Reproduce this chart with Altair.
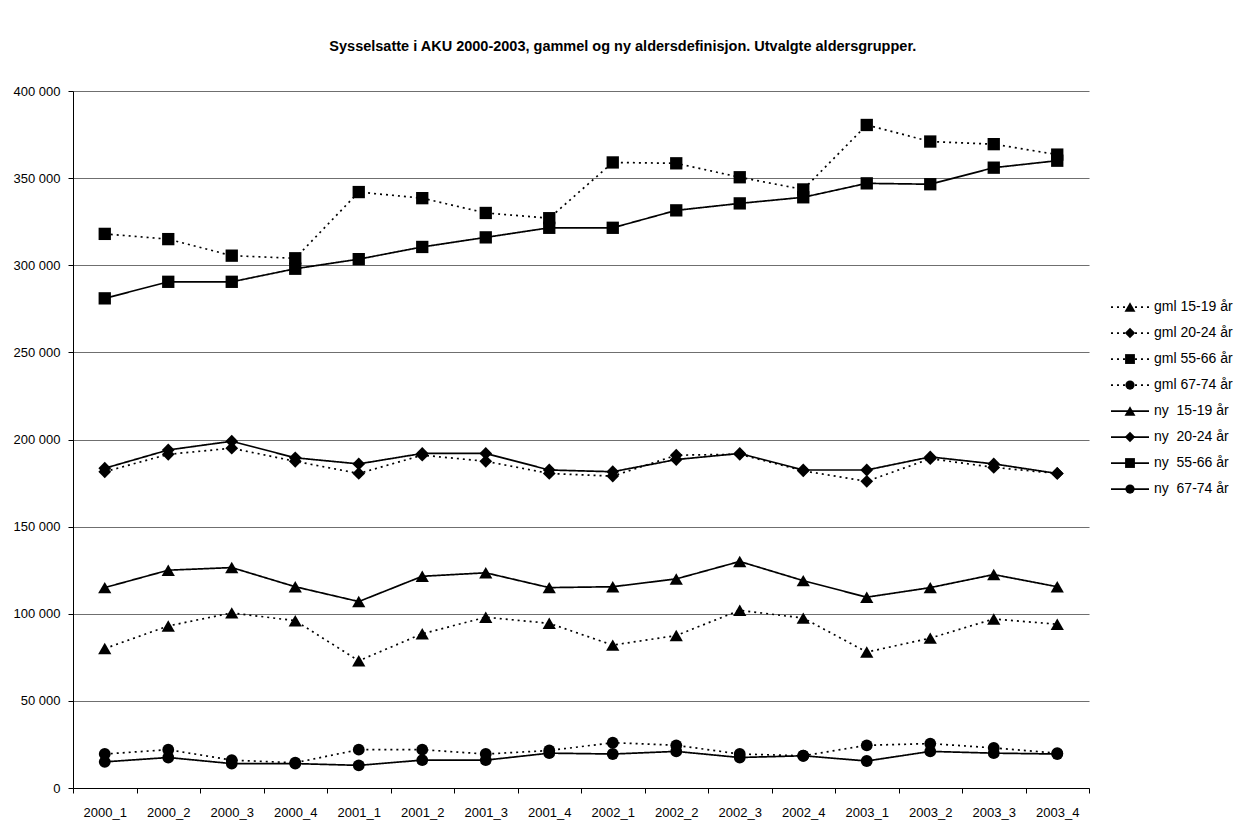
import altair as alt
import pandas as pd

periods = ["2000_1", "2000_2", "2000_3", "2000_4", "2001_1", "2001_2", "2001_3", "2001_4",
           "2002_1", "2002_2", "2002_3", "2002_4", "2003_1", "2003_2", "2003_3", "2003_4"]

gml_15_19 = [80000, 93000, 100500, 96000, 73000, 88500, 98000, 94500, 82000, 87500, 102000, 97500, 78000, 86000, 97000, 94000]
gml_20_24 = [181500, 191500, 195000, 187500, 180500, 191000, 187500, 180500, 179000, 191000, 191500, 182000, 176000, 189000, 184000, 180500]
gml_55_66 = [318000, 315000, 305500, 304000, 342000, 338500, 330000, 327000, 359000, 358500, 350500, 343500, 380500, 371000, 369500, 363500]
gml_67_74 = [19500, 22000, 16000, 14500, 22000, 22000, 19500, 21500, 26000, 24500, 19500, 18500, 24500, 25500, 23000, 20000]
ny_15_19 = [115000, 125000, 126500, 115500, 107000, 121500, 123500, 115000, 115500, 120000, 130000, 119000, 109500, 115000, 122500, 115500]
ny_20_24 = [183500, 194000, 199000, 189500, 186000, 192000, 192000, 182500, 181500, 188500, 192000, 182500, 182500, 190000, 186000, 180500]
ny_55_66 = [281000, 290500, 290500, 298000, 303500, 310500, 316000, 321500, 321500, 331500, 335500, 339000, 347000, 346500, 356000, 360000]
ny_67_74 = [15000, 17500, 14000, 14000, 13000, 16000, 16000, 20000, 19500, 21000, 17500, 18500, 15500, 21000, 20000, 19500]

series_labels = ["gml 15-19 år", "gml 20-24 år", "gml 55-66 år", "gml 67-74 år",
                 "ny\u00a0 15-19 år", "ny\u00a0 20-24 år", "ny\u00a0 55-66 år", "ny\u00a0 67-74 år"]
series_kind = ["gml", "gml", "gml", "gml", "ny", "ny", "ny", "ny"]
series_age = ["15-19", "20-24", "55-66", "67-74", "15-19", "20-24", "55-66", "67-74"]
series_values = [gml_15_19, gml_20_24, gml_55_66, gml_67_74, ny_15_19, ny_20_24, ny_55_66, ny_67_74]

ages = ["15-19", "20-24", "55-66", "67-74"]
shapes = ["triangle-up", "diamond", "square", "circle"]
sizes = [175, 140, 400, 105]

rows = []
for lab, kind, age, vals in zip(series_labels, series_kind, series_age, series_values):
    for p, v in zip(periods, vals):
        rows.append({"period": p, "value": v, "series": lab, "kind": kind, "age": age})
df = pd.DataFrame(rows)

leg = pd.DataFrame({"series": series_labels, "kind": series_kind, "age": series_age,
                    "row": list(range(len(series_labels)))})

FONT = "Liberation Sans"

dash_scale = alt.Scale(domain=["gml", "ny"], range=[[2, 4], [1, 0]])
shape_scale = alt.Scale(domain=ages, range=shapes)
size_scale = alt.Scale(domain=ages, range=sizes)

x_enc = alt.X("period:N", sort=periods, title=None,
              scale=alt.Scale(type="band", paddingInner=0, paddingOuter=0),
              axis=alt.Axis(labelAngle=0, tickBand="extent", domainColor="black", tickColor="black",
                            tickSize=5, labelPadding=13, labelFontSize=13, labelFont=FONT,
                            labelColor="black", grid=False))
y_enc = alt.Y("value:Q", title=None,
              scale=alt.Scale(domain=[0, 400000], nice=False),
              axis=alt.Axis(values=list(range(0, 400001, 50000)),
                            labelExpr="replace(format(datum.value, ','), /,/g, ' ')",
                            domainColor="black", tickColor="black", tickSize=5, labelPadding=8,
                            labelFontSize=13, labelFont=FONT, labelColor="black",
                            gridColor="#6f6f6f", gridWidth=1.2))

base = alt.Chart(df)
lines = base.mark_line(color="black", strokeWidth=1.7).encode(
    x=x_enc, y=y_enc, detail="series:N",
    strokeDash=alt.StrokeDash("kind:N", scale=dash_scale, legend=None))
points = base.mark_point(filled=True, color="black", opacity=1).encode(
    x=alt.X("period:N", sort=periods),
    y="value:Q",
    shape=alt.Shape("age:N", scale=shape_scale, legend=None),
    size=alt.Size("age:N", scale=size_scale, legend=None))
main = alt.layer(lines, points).properties(width=1016, height=697)

ly = alt.Y("row:Q", axis=None, scale=alt.Scale(domain=[-8.31, 18.5], reverse=True, nice=False, zero=False))
lbase = alt.Chart(leg)
lrule = lbase.mark_rule(color="black", strokeWidth=1.7).encode(
    x=alt.value(0), x2=alt.value(38), y=ly,
    strokeDash=alt.StrokeDash("kind:N", scale=dash_scale, legend=None))
lpoint = lbase.mark_point(filled=True, color="black", opacity=1).encode(
    x=alt.value(19), y=ly,
    shape=alt.Shape("age:N", scale=shape_scale, legend=None),
    size=alt.Size("age:N", scale=alt.Scale(domain=ages, range=[120, 85, 320, 85]), legend=None))
ltext = lbase.mark_text(align="left", baseline="middle", font=FONT, fontSize=14, color="black").encode(
    x=alt.value(43), y=ly, text="series:N")
legend = alt.layer(lrule, lpoint, ltext).properties(width=110, height=697)

chart = alt.hconcat(main, legend, spacing=20).resolve_scale(
    shape="independent", size="independent", strokeDash="independent"
).properties(
    title=alt.Title("Sysselsatte i AKU 2000-2003, gammel og ny aldersdefinisjon. Utvalgte aldersgrupper.",
                    font=FONT, fontSize=14.5, fontWeight="bold", color="black",
                    anchor="middle", offset=31),
    padding={"left": 5, "top": 30, "right": 5, "bottom": 5},
).configure_view(strokeWidth=0, stroke=None)

chart.save("out.html", embed_options={"renderer": "svg", "actions": False})
